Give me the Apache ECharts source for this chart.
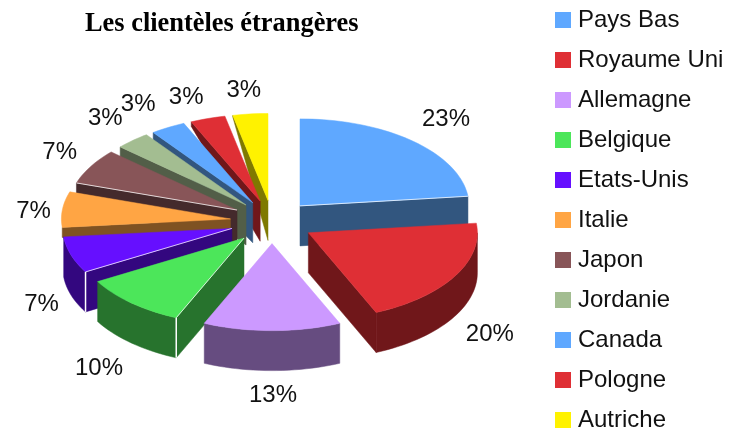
<!DOCTYPE html>
<html>
<head>
<meta charset="utf-8">
<style>
  html, body { margin: 0; padding: 0; background: #fff; }
  #chart { width: 729px; height: 428px; }
</style>
<script src="https://cdn.jsdelivr.net/npm/echarts@6/dist/echarts.min.js"></script>
</head>
<body>
<div id="chart"></div>
<script>
const countries = ['Pays Bas', 'Royaume Uni', 'Allemagne', 'Belgique', 'Etats-Unis', 'Italie', 'Japon', 'Jordanie', 'Canada', 'Pologne', 'Autriche'];
const shares = [23, 20, 13, 10, 7, 7, 7, 3, 3, 3, 3];
const topColors = ['#5fa8ff', '#df2f35', '#cc99ff', '#4ce65a', '#660fff', '#ffa544', '#885558', '#a3bd91', '#5fa8ff', '#df2f35', '#fff200'];
const wallColors = ['#32567f', '#70171a', '#664c80', '#27732d', '#33077f', '#7f5222', '#442a2c', '#525e48', '#32567f', '#70171a', '#7f7900'];

// back to front, the slices are painted in this order
const paintOrder = [0, 1, 10, 9, 8, 7, 6, 5, 4, 3, 2];
// fine tuning of the percent labels, px
const labelNudge = [[4, -4], [-3, 6], [1, 0], [-3, 7], [13, 3], [14, 8], [0, 4], [-9, 1], [-17, 1], [-14, 3], [-4, 1]];
// slices with a light line along the edge of the top face
const litEdges = [0, 3, 4, 6];

const centerX = 272, centerY = 222;
const radiusX = 169, radiusY = 87;
const explode = 42;   // in x units, y is scaled the same way as the radius
const labelRx = 255, labelRy = 133;
const fullDepth = 40;

const total = shares.reduce((a, b) => a + b, 0);
const rad = d => d * Math.PI / 180;

// the far side of the pie gets less wall height (fake perspective)
function depthAt(y) {
  return fullDepth * Math.min(1, Math.max(0, (y - 112) / 86));
}

// same idea for the angles: the back left slices lean a bit to the left
function warp(t) {
  if (t <= 250) return t;
  if (t <= 316.4) return t - 4.5 * (t - 250) / 66.4;
  return t - 4.5 * (360 - t) / 43.6;
}

function renderSlice(params, api) {
  const i = params.seriesIndex;
  const before = shares.slice(0, i).reduce((a, b) => a + b, 0);
  const start = before / total * 360;
  const end = (before + api.value(0)) / total * 360;
  const mid = (start + end) / 2;

  const ox = centerX + explode * Math.sin(rad(mid));
  const oy = centerY - explode * radiusY / radiusX * Math.cos(rad(mid));
  const pt = t => {
    const w = warp(t);
    return [ox + radiusX * Math.sin(rad(w)), oy - radiusY * Math.cos(rad(w))];
  };
  const down = p => [p[0], p[1] + depthAt(p[1])];
  // back slices: only a thin wall shows at the outer end
  const downBack = p => [p[0], p[1] + Math.min(depthAt(p[1]), 10)];

  const children = [];
  const wall = pts => children.push({
    type: 'polygon',
    shape: { points: pts },
    style: { fill: wallColors[i], stroke: wallColors[i], lineWidth: 0.5 }
  });

  const apex = [ox, oy];
  if (start > 180 && start < 360) {
    const p = pt(start);
    wall([apex, p, mid > 270 ? downBack(p) : down(p), down(apex)]);
  }
  if (end > 0 && end < 180) {
    const p = pt(end);
    wall([apex, p, down(p), down(apex)]);
  }
  const a0 = Math.max(start, 90), a1 = Math.min(end, 270);
  if (a1 > a0 && mid < 270) {
    const rim = [];
    for (let t = a0; t < a1; t += 2) rim.push(pt(t));
    rim.push(pt(a1));
    wall(rim.concat(rim.map(down).reverse()));
  }

  const top = [apex];
  for (let t = start; t < end; t += 2) top.push(pt(t));
  top.push(pt(end));
  children.push({
    type: 'polygon',
    shape: { points: top },
    style: { fill: topColors[i], stroke: topColors[i], lineWidth: 0.5 }
  });

  if (litEdges.includes(i)) {
    const edgeAngle = (end < 180) ? end : start;
    const p = pt(edgeAngle);
    children.push({
      type: 'line',
      shape: { x1: ox, y1: oy, x2: p[0], y2: p[1] },
      style: { stroke: 'rgba(255,255,255,0.75)', lineWidth: 1 }
    });
    if (i === 3 || i === 4) {
      const q = down(p);
      children.push({
        type: 'line',
        shape: { x1: p[0], y1: p[1], x2: q[0], y2: q[1] },
        style: { stroke: '#fff', lineWidth: 1.5 }
      });
    }
  }

  const lowerHalf = Math.cos(rad(mid)) < 0;
  children.push({
    type: 'text',
    z2: 100,
    style: {
      x: centerX + labelRx * Math.sin(rad(mid)) + labelNudge[i][0],
      y: centerY - labelRy * Math.cos(rad(mid)) + (lowerHalf && mid < 270 ? fullDepth : 0) + labelNudge[i][1],
      text: api.value(0) + '%',
      align: 'center',
      verticalAlign: 'middle',
      fill: '#111',
      font: '24px "Liberation Sans", Arial, sans-serif'
    }
  });

  return { type: 'group', children: children };
}

const chart = echarts.init(document.getElementById('chart'));
chart.setOption({
  backgroundColor: '#fff',
  animation: false,
  title: {
    text: 'Les clientèles étrangères',
    left: 85,
    top: 11,
    padding: 0,
    textStyle: {
      fontFamily: '"Liberation Serif", "Times New Roman", serif',
      fontSize: 26.4,
      fontWeight: 'bold',
      color: '#000'
    }
  },
  legend: {
    orient: 'vertical',
    left: 555,
    top: 8,
    height: 440,
    padding: 0,
    icon: 'rect',
    itemWidth: 16,
    itemHeight: 16,
    itemGap: 16,
    selectedMode: false,
    data: countries,
    textStyle: {
      fontFamily: '"Liberation Sans", Arial, sans-serif',
      fontSize: 24,
      lineHeight: 24,
      padding: [0, 0, 0, 2],
      color: '#111'
    }
  },
  series: countries.map((name, i) => ({
    type: 'custom',
    name: name,
    coordinateSystem: 'none',
    silent: true,
    z: 2 + paintOrder.indexOf(i),
    itemStyle: { color: topColors[i] },
    data: [[shares[i]]],
    renderItem: renderSlice
  }))
});
</script>
</body>
</html>
